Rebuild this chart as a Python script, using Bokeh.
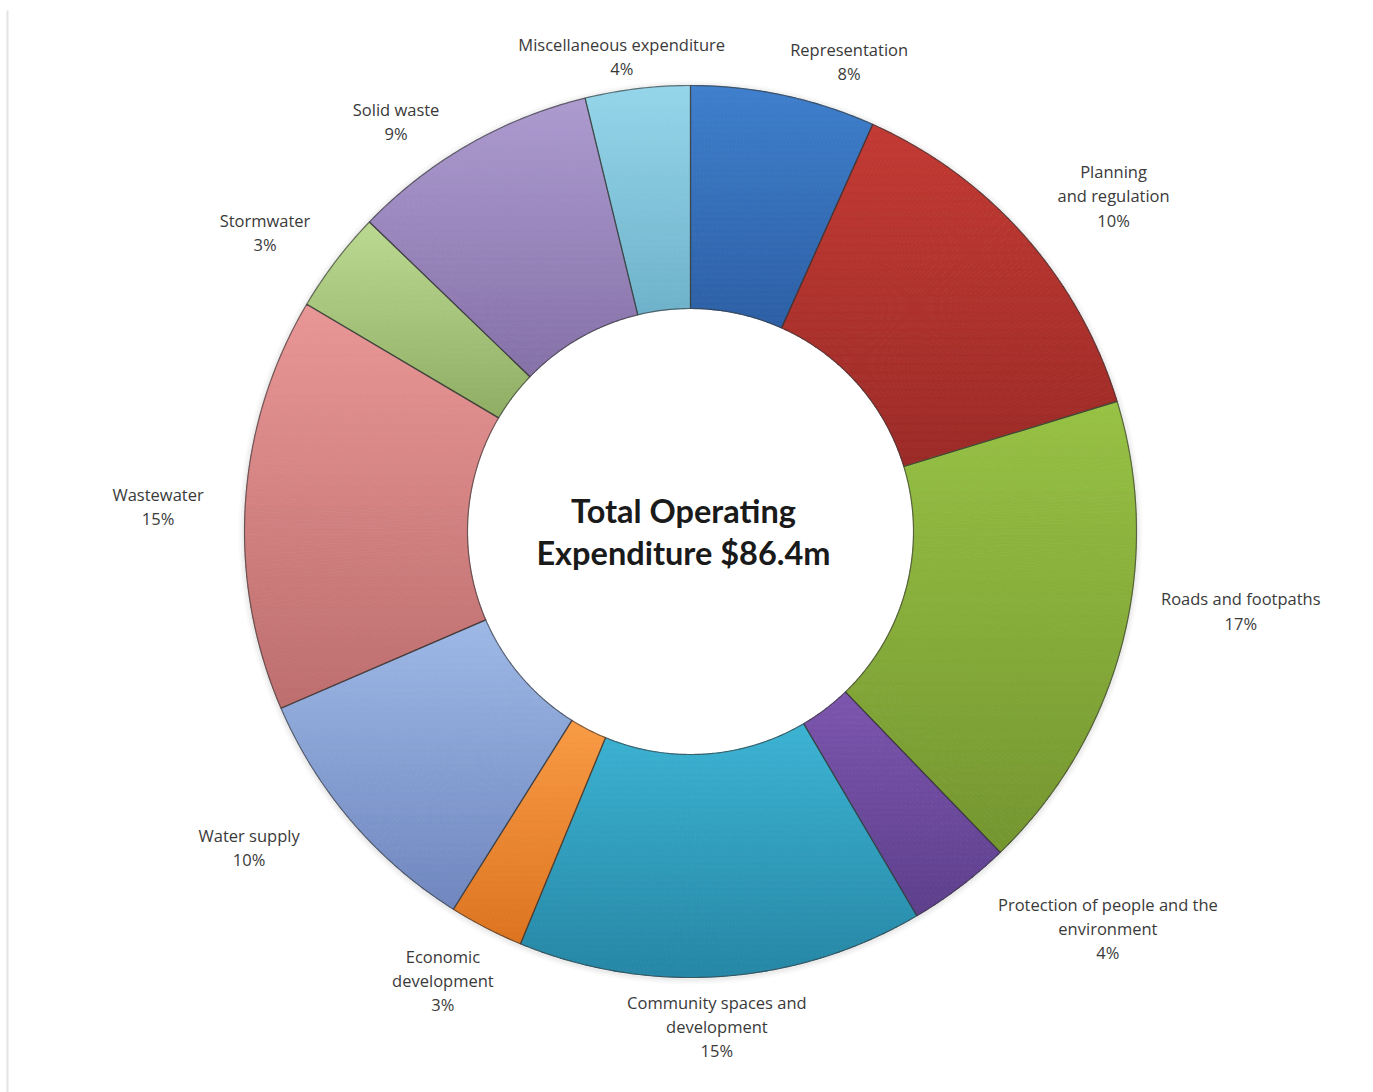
import numpy as np
from bokeh.plotting import figure
from bokeh.models import Range1d
from bokeh.core.properties import value
from bokeh.embed import file_html
from bokeh.resources import INLINE

# ---------------- data (clockwise from 12 o'clock) ----------------
categories = ["Representation", "Planning and regulation", "Roads and footpaths",
              "Protection of people and the environment", "Community spaces and development",
              "Economic development", "Water supply", "Wastewater", "Stormwater",
              "Solid waste", "Miscellaneous expenditure"]
# angular share of each slice (%)
shares = [6.7, 13.6, 17.5, 3.75, 14.7, 2.7, 9.6, 15.0, 3.7, 9.0, 3.8]
# percentages printed in the data labels
pct_labels = ["8%", "10%", "17%", "4%", "15%", "3%", "10%", "15%", "3%", "9%", "4%"]
# label text as wrapped in the chart
label_names = ["Representation", "Planning\nand regulation", "Roads and footpaths",
               "Protection of people and the\nenvironment", "Community spaces and\ndevelopment",
               "Economic\ndevelopment", "Water supply", "Wastewater", "Stormwater",
               "Solid waste", "Miscellaneous expenditure"]
center_title = "Total Operating\nExpenditure $86.4m"

# ---------------- styles / layout ----------------
top_colors = ["#3f7fcc", "#c33a33", "#97c244", "#7c55ad", "#3cb3d3", "#f99a45",
              "#9db8e6", "#e99595", "#bbd991", "#ad9bd0", "#95d5ea"]
bot_colors = ["#2c5fa5", "#9b2a27", "#74952f", "#5d3f8c", "#2686a5", "#dc7420",
              "#6f86be", "#bd6e6e", "#8fad63", "#8470a6", "#6eb2ca"]
label_angle_offset = [6.6, 3.0, -6.3, -9.2, 1.0, 1.6, 5.0, -1.0, -2.2, -5.8, -1.4]
label_radius = [496, 540, 556, 576, 496, 513, 543, 533, 520, 505, 480]

W, H = 1373, 1092
CX, CY = 690, H - 531
R_OUT, R_IN = 446, 223


def hex2rgb(h):
    h = h.lstrip("#")
    return np.array([int(h[i:i + 2], 16) for i in (0, 2, 4)], dtype=float)


def rgb2hex(c):
    c = np.clip(np.round(c), 0, 255).astype(int)
    return "#%02x%02x%02x" % tuple(c)


def pt(theta_deg, r):
    t = np.radians(theta_deg)
    return CX + r * np.sin(t), CY + r * np.cos(t)


def clip_half(pts, keep, yc):
    out = []
    n = len(pts)
    for i in range(n):
        cur, prev = pts[i], pts[i - 1]
        kc, kp = keep(cur), keep(prev)
        if kc:
            if not kp:
                t = (yc - prev[1]) / (cur[1] - prev[1])
                out.append((prev[0] + t * (cur[0] - prev[0]), yc))
            out.append(cur)
        elif kp:
            t = (yc - prev[1]) / (cur[1] - prev[1])
            out.append((prev[0] + t * (cur[0] - prev[0]), yc))
    return out


def clip_band(poly, y0, y1):
    pts = clip_half(poly, lambda q: q[1] >= y0, y0)
    if len(pts) < 3:
        return []
    pts = clip_half(pts, lambda q: q[1] <= y1, y1)
    return pts if len(pts) >= 3 else []


p = figure(width=W, height=H, x_range=Range1d(0, W), y_range=Range1d(0, H),
           output_backend="svg", toolbar_location=None, min_border=0,
           x_axis_location=None, y_axis_location=None)
p.grid.visible = False
p.outline_line_color = None
p.background_fill_color = "white"
p.border_fill_color = "white"

# faint page border on the left
p.segment(x0=[7], y0=[0], x1=[7], y1=[H - 10], line_color="#e3e3e3", line_width=2)

# soft shadow around the ring
for k, a in [(6, 0.04), (4, 0.06), (2, 0.08)]:
    p.annular_wedge(x=[CX], y=[CY - 1], inner_radius=R_OUT, outer_radius=R_OUT + k,
                    start_angle=0, end_angle=2 * np.pi, fill_color="#888888",
                    fill_alpha=a, line_color=None)

total = float(sum(shares))
bounds = np.concatenate([[0.0], np.cumsum(shares) / total * 360.0])

band_xs, band_ys, band_cols = [], [], []
out_xs, out_ys = [], []
lab_x, lab_y, lab_t = [], [], []
for i in range(len(shares)):
    a0, a1 = bounds[i], bounds[i + 1]
    n = max(8, int((a1 - a0) * 2))
    th = np.linspace(a0, a1, n)
    ox, oy = pt(th, R_OUT)
    ix, iy = pt(th[::-1], R_IN)
    xs = np.concatenate([ox, ix])
    ys = np.concatenate([oy, iy])
    out_xs.append(list(xs))
    out_ys.append(list(ys))
    ymin, ymax = ys.min(), ys.max()
    nb = 40
    edges = np.linspace(ymin, ymax, nb + 1)
    ct, cb = hex2rgb(top_colors[i]), hex2rgb(bot_colors[i])
    # split the slice into small convex quads, then clip each to horizontal bands
    for k in range(n - 1):
        qx0, qy0 = pt(th[k], R_OUT)
        qx1, qy1 = pt(th[k + 1], R_OUT)
        qx2, qy2 = pt(th[k + 1], R_IN)
        qx3, qy3 = pt(th[k], R_IN)
        quad = [(qx0, qy0), (qx1, qy1), (qx2, qy2), (qx3, qy3)]
        qmin = min(qy0, qy1, qy2, qy3)
        qmax = max(qy0, qy1, qy2, qy3)
        for b in range(nb):
            if edges[b + 1] + 0.5 < qmin or edges[b] - 0.5 > qmax:
                continue
            seg = clip_band(quad, edges[b] - 0.5, edges[b + 1] + 0.5)
            if not seg:
                continue
            t = (0.5 * (edges[b] + edges[b + 1]) - ymin) / max(ymax - ymin, 1e-9)
            col = rgb2hex(cb + (ct - cb) * t)
            band_xs.append([q[0] for q in seg])
            band_ys.append([q[1] for q in seg])
            band_cols.append(col)
    mid = 0.5 * (a0 + a1) + label_angle_offset[i]
    lx, ly = pt(mid, label_radius[i])
    lab_x.append(lx)
    lab_y.append(ly)
    lab_t.append(label_names[i] + "\n" + pct_labels[i])

p.patches(xs=band_xs, ys=band_ys, fill_color=band_cols, line_color=band_cols, line_width=0.8)
p.patches(xs=out_xs, ys=out_ys, fill_alpha=0, line_color="#353535", line_alpha=0.65, line_width=1.2)

p.text(x=lab_x, y=lab_y, text=lab_t, text_align="center", text_baseline="middle",
       text_font=value("Open Sans"), text_font_size="16.5px", text_color="#3a3a3a",
       text_line_height=1.05)

p.text(x=[CX - 7], y=[CY], text=[center_title], text_align="center", text_baseline="middle",
       text_font=value("Lato"), text_font_size="32.5px", text_font_style="bold",
       text_color="#1a1a1a", text_line_height=1.06)

open("out.html", "w").write(file_html(p, INLINE))
